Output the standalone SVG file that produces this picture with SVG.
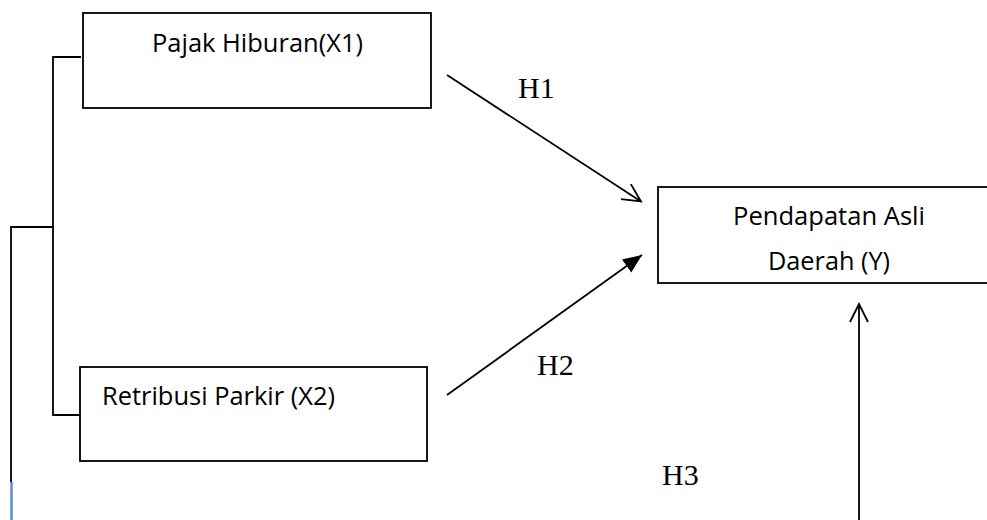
<svg xmlns="http://www.w3.org/2000/svg" width="987" height="520" viewBox="0 0 987 520">
<style>
.box{fill:#fff;stroke:#000;stroke-width:1.8}
.lbl{font-family:"Open Sans","Liberation Sans",sans-serif;font-size:25px;fill:#000}
.h{font-family:"Liberation Serif","Times New Roman",serif;font-size:30px;fill:#000}
.ln{fill:none;stroke:#000;stroke-width:1.8}
</style>
<defs>
<marker id="open" markerWidth="22" markerHeight="22" refX="19" refY="11" orient="auto" markerUnits="userSpaceOnUse">
<path d="M1,2 L19,11 L1,20" fill="none" stroke="#000" stroke-width="1.8"/>
</marker>
<marker id="fill" markerWidth="20" markerHeight="20" refX="19" refY="10" orient="auto" markerUnits="userSpaceOnUse">
<path d="M0,2 L19,10 L0,18 Z" fill="#000"/>
</marker>
</defs>
<g id="connectors">
<polyline class="ln" points="81,57 53,57 53,415 83,415"/>
<polyline class="ln" points="53,227 11,227 11,482"/>
<line x1="11.5" y1="482" x2="11.5" y2="520" stroke="#5b8bd0" stroke-width="2.5"/>
<line class="ln" x1="447" y1="75" x2="641" y2="201.5" marker-end="url(#open)"/>
<line class="ln" x1="447" y1="395" x2="642" y2="255" marker-end="url(#fill)"/>
<line class="ln" x1="859" y1="520" x2="859" y2="304" marker-end="url(#open)"/>
</g>
<g id="x1">
<rect class="box" x="83" y="13" width="348" height="95"/>
<text class="lbl" x="152" y="52" textLength="211" lengthAdjust="spacingAndGlyphs">Pajak Hiburan(X1)</text>
</g>
<g id="x2">
<rect class="box" x="80" y="367" width="347" height="94"/>
<text class="lbl" x="102" y="405" textLength="233" lengthAdjust="spacingAndGlyphs">Retribusi Parkir (X2)</text>
</g>
<g id="y">
<rect class="box" x="658" y="187" width="360" height="96"/>
<text class="lbl" x="733" y="225" textLength="192" lengthAdjust="spacingAndGlyphs">Pendapatan Asli</text>
<text class="lbl" x="768" y="270" textLength="122" lengthAdjust="spacingAndGlyphs">Daerah (Y)</text>
</g>
<g id="labels">
<text class="h" x="518" y="98">H1</text>
<text class="h" x="537" y="375">H2</text>
<text class="h" x="662" y="485">H3</text>
</g>
</svg>
